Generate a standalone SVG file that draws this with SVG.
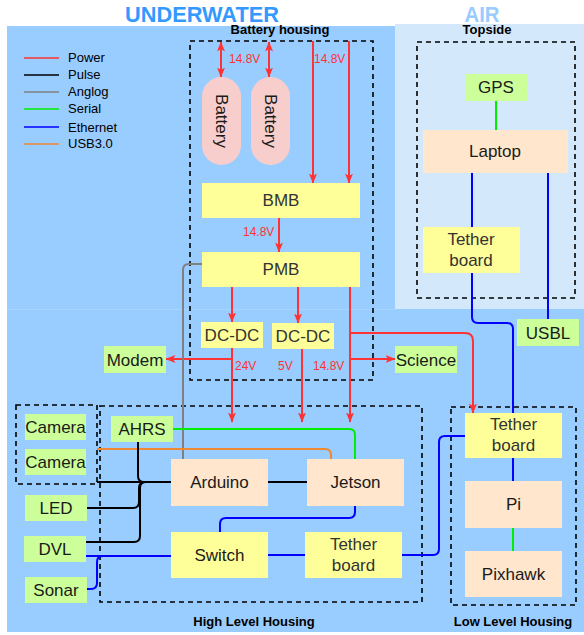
<svg xmlns="http://www.w3.org/2000/svg" width="584" height="635" viewBox="0 0 584 635">
<style>
.t{font-family:"Liberation Sans",Arial,sans-serif;font-size:17px;fill:#1a1a1a;text-anchor:middle}
.tg{fill:#333}
.b{font-family:"Liberation Sans",Arial,sans-serif;font-size:13px;font-weight:bold;fill:#000;text-anchor:middle}
.lg{font-family:"Liberation Sans",Arial,sans-serif;font-size:13px;fill:#000}
.v{font-family:"Liberation Sans",Arial,sans-serif;font-size:12px;fill:#FF3333}
.grn{fill:#CCFF99}
.yel{fill:#FFFF99}
.pch{fill:#FFE6CC}
.bat{fill:#F8CECC}
.dash{fill:none;stroke:#000;stroke-width:1.6;stroke-dasharray:5 4}
.c{fill:none;stroke-width:2}
.pw{stroke:#FF3333}
.pu{stroke:#000}
.an{stroke:#808080}
.se{stroke:#00EE00}
.et{stroke:#0000FF}
.us{stroke:#EE8833}
</style>
<defs>
<marker id="ar" viewBox="0 0 10 10" refX="9.5" refY="5" markerWidth="10" markerHeight="10" markerUnits="userSpaceOnUse" orient="auto-start-reverse">
<path d="M0,1 L10,5 L0,9 L2.5,5 z" fill="#FF3333"/>
</marker>
</defs>
<g id="background">
<rect x="7" y="26" width="388" height="284" fill="#99CCFF"/>
<rect x="395" y="24" width="189" height="285" fill="#D4E8FC"/>
<rect x="7" y="309" width="577" height="323" fill="#99CCFF"/>
<line x1="7" y1="309.5" x2="395" y2="309.5" stroke="#A8D4FF" stroke-width="1"/>
<text x="202" y="22" font-family="Liberation Sans,Arial,sans-serif" font-size="22" font-weight="bold" fill="#3399FF" text-anchor="middle" textLength="154" lengthAdjust="spacingAndGlyphs">UNDERWATER</text>
<text x="482" y="22" font-family="Liberation Sans,Arial,sans-serif" font-size="22" font-weight="bold" fill="#99CCFF" text-anchor="middle" textLength="35" lengthAdjust="spacingAndGlyphs">AIR</text>
</g>
<g id="legend">
<line x1="24" y1="58" x2="59" y2="58" stroke="#FF3333" stroke-width="1.5"/>
<line x1="24" y1="75" x2="59" y2="75" stroke="#000" stroke-width="1.5"/>
<line x1="24" y1="92" x2="59" y2="92" stroke="#808080" stroke-width="1.5"/>
<line x1="24" y1="109" x2="59" y2="109" stroke="#00EE00" stroke-width="1.5"/>
<line x1="24" y1="127" x2="59" y2="127" stroke="#0000FF" stroke-width="1.5"/>
<line x1="24" y1="144" x2="59" y2="144" stroke="#EE8833" stroke-width="1.5"/>
<text class="lg" x="68" y="62">Power</text>
<text class="lg" x="68" y="79">Pulse</text>
<text class="lg" x="68" y="96">Anglog</text>
<text class="lg" x="68" y="113">Serial</text>
<text class="lg" x="68" y="132">Ethernet</text>
<text class="lg" x="68" y="148">USB3.0</text>
</g>
<g id="battery-housing">
<rect class="dash" x="190" y="41" width="183" height="339"/>
<text class="b" x="280" y="34">Battery housing</text>
</g>
<g id="topside">
<rect class="dash" x="417" y="42" width="158" height="256"/>
<text class="b" x="487" y="34">Topside</text>
</g>
<g id="high-level-housing">
<rect class="dash" x="100" y="406" width="322" height="196"/>
<text class="b" x="254" y="626">High Level Housing</text>
</g>
<g id="low-level-housing">
<rect class="dash" x="451" y="407" width="125" height="198"/>
<text class="b" x="513" y="626">Low Level Housing</text>
</g>
<g id="camera-group">
<rect class="dash" x="16" y="405" width="81" height="79"/>
</g>
<g id="connectors">
<path class="c pw" d="M221,42 V77" marker-start="url(#ar)" marker-end="url(#ar)"/>
<path class="c pw" d="M269,42 V77" marker-start="url(#ar)" marker-end="url(#ar)"/>
<path class="c pw" d="M313,41 V183" marker-end="url(#ar)"/>
<path class="c pw" d="M349,41 V183" marker-end="url(#ar)"/>
<path class="c pw" d="M279,218 V252" marker-end="url(#ar)"/>
<path class="c pw" d="M232,287 V322" marker-end="url(#ar)"/>
<path class="c pw" d="M298,287 V323" marker-end="url(#ar)"/>
<path class="c pw" d="M350,287 V422" marker-end="url(#ar)"/>
<path class="c pw" d="M350,333 H465 Q473,333 473,341 V413" marker-end="url(#ar)"/>
<path class="c pw" d="M350,359 H395" marker-end="url(#ar)"/>
<path class="c pw" d="M232,348 V422" marker-end="url(#ar)"/>
<path class="c pw" d="M232,359 H166" marker-end="url(#ar)"/>
<path class="c pw" d="M302,349 V422" marker-end="url(#ar)"/>
<path class="c an" d="M202,264 H189 Q183,264 183,270 V459"/>
<path class="c se" d="M173,429 H349 Q355,429 355,435 V459"/>
<path class="c se" d="M496,101 V130"/>
<path class="c se" d="M513,528 V551"/>
<path class="c us" d="M97,449 H325 Q331,449 331,455 V459"/>
<path class="c pu" d="M97,482 H171"/>
<path class="c pu" d="M268,482 H307"/>
<path class="c pu" d="M138,442 V476 Q138,482 144,482"/>
<path class="c pu" d="M87,508 H133 Q139,508 139,502 V488 Q139,482 145,482"/>
<path class="c pu" d="M86,542 H134 Q140,542 140,536 V488 Q140,482 146,482"/>
<path class="c et" d="M472,173 V227"/>
<path class="c et" d="M472,273 V317 Q472,323 478,323 H507 Q513,323 513,329 V413"/>
<path class="c et" d="M513,458 V481"/>
<path class="c et" d="M548,173 V319"/>
<path class="c et" d="M402,555 H433 Q439,555 439,549 V442 Q439,436 445,436 H465"/>
<path class="c et" d="M268,555 H305"/>
<path class="c et" d="M355,506 V512 Q355,518 349,518 H226 Q220,518 220,524 V532"/>
<path class="c et" d="M86,556 H171"/>
<path class="c et" d="M87,589 H91 Q97,589 97,583 V562 Q97,556 103,556 H171"/>
</g>
<g id="voltage-labels">
<text class="v" x="229" y="63">14.8V</text>
<text class="v" x="314" y="63">14.8V</text>
<text class="v" x="243" y="236">14.8V</text>
<text class="v" x="235" y="370">24V</text>
<text class="v" x="278" y="370">5V</text>
<text class="v" x="313" y="370">14.8V</text>
</g>
<g id="battery1"><rect class="bat" x="202" y="77" width="39" height="88" rx="19.5"/><text class="t" transform="translate(221.5,121) rotate(90)" y="6">Battery</text></g>
<g id="battery2"><rect class="bat" x="251" y="77" width="39" height="88" rx="19.5"/><text class="t" transform="translate(270.5,121) rotate(90)" y="6">Battery</text></g>
<g id="bmb"><rect class="yel" x="202" y="183" width="158" height="35"/><text class="t tg" x="281" y="206">BMB</text></g>
<g id="pmb"><rect class="yel" x="202" y="252" width="158" height="35"/><text class="t tg" x="281" y="275">PMB</text></g>
<g id="dcdc1"><rect class="yel" x="201" y="322" width="62" height="26"/><text class="t tg" x="232" y="341">DC-DC</text></g>
<g id="dcdc2"><rect class="yel" x="272" y="323" width="62" height="26"/><text class="t tg" x="303" y="342">DC-DC</text></g>
<g id="modem"><rect class="grn" x="104" y="346" width="62" height="27"/><text class="t" x="135" y="366">Modem</text></g>
<g id="science"><rect class="grn" x="395" y="346" width="62" height="27"/><text class="t" x="426" y="366">Science</text></g>
<g id="gps"><rect class="grn" x="465" y="74" width="62" height="27"/><text class="t" x="496" y="93">GPS</text></g>
<g id="laptop"><rect class="pch" x="423" y="130" width="145" height="43"/><text class="t" x="495" y="157">Laptop</text></g>
<g id="tether-top"><rect class="yel" x="423" y="227" width="97" height="46"/><text class="t tg" x="471" y="245">Tether</text><text class="t tg" x="471" y="266">board</text></g>
<g id="usbl"><rect class="grn" x="517" y="319" width="62" height="27"/><text class="t" x="548" y="339">USBL</text></g>
<g id="camera1"><rect class="grn" x="25" y="414" width="61" height="26"/><text class="t" x="55.5" y="433">Camera</text></g>
<g id="camera2"><rect class="grn" x="25" y="449" width="61" height="26"/><text class="t" x="55.5" y="468">Camera</text></g>
<g id="led"><rect class="grn" x="25" y="495" width="62" height="26"/><text class="t" x="56" y="514">LED</text></g>
<g id="dvl"><rect class="grn" x="24" y="536" width="62" height="26"/><text class="t" x="55" y="555">DVL</text></g>
<g id="sonar"><rect class="grn" x="25" y="577" width="62" height="26"/><text class="t" x="56" y="596">Sonar</text></g>
<g id="ahrs"><rect class="grn" x="111" y="416" width="62" height="26"/><text class="t" x="142" y="435">AHRS</text></g>
<g id="arduino"><rect class="pch" x="171" y="459" width="97" height="47"/><text class="t" x="219.5" y="488">Arduino</text></g>
<g id="jetson"><rect class="pch" x="307" y="459" width="97" height="47"/><text class="t" x="355.5" y="488">Jetson</text></g>
<g id="switch"><rect class="yel" x="171" y="532" width="97" height="46"/><text class="t" x="219.5" y="561">Switch</text></g>
<g id="tether-hl"><rect class="yel" x="305" y="532" width="97" height="46"/><text class="t tg" x="353.5" y="550">Tether</text><text class="t tg" x="353.5" y="571">board</text></g>
<g id="tether-ll"><rect class="yel" x="465" y="413" width="97" height="45"/><text class="t tg" x="513.5" y="430">Tether</text><text class="t tg" x="513.5" y="451">board</text></g>
<g id="pi"><rect class="pch" x="465" y="481" width="97" height="47"/><text class="t" x="513.5" y="510">Pi</text></g>
<g id="pixhawk"><rect class="pch" x="465" y="551" width="97" height="46"/><text class="t" x="513.5" y="580">Pixhawk</text></g>
</svg>
